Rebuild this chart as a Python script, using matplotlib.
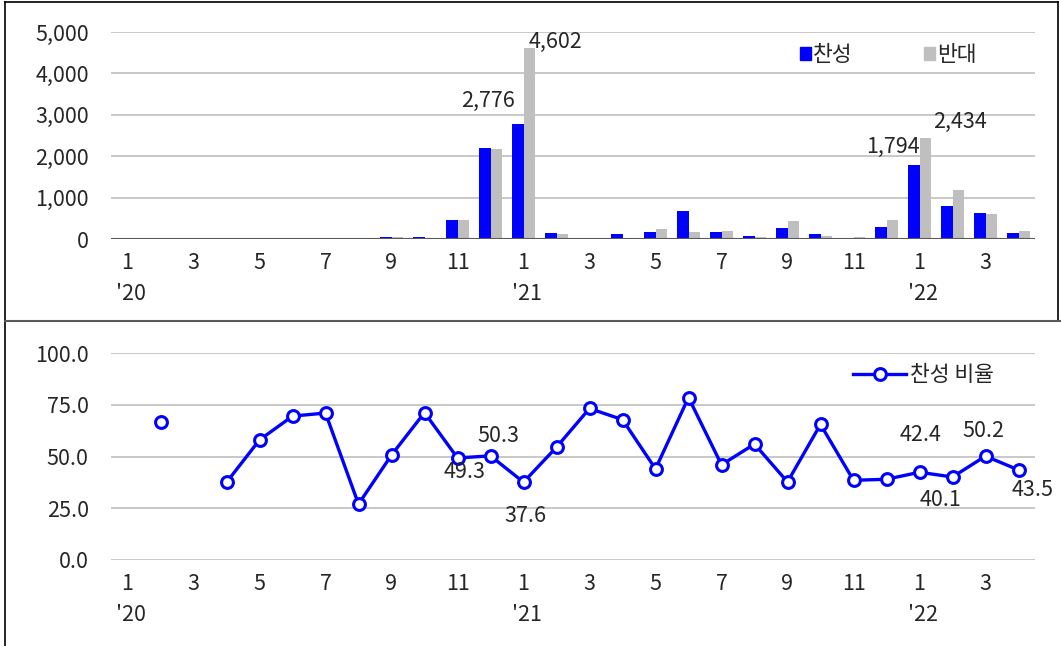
import numpy as np
import matplotlib
matplotlib.use("Agg")
import matplotlib.pyplot as plt
from matplotlib.lines import Line2D
from matplotlib.patches import Patch

plt.rcParams['font.family'] = ['Noto Sans CJK KR', 'DejaVu Sans']

# months Jan 2020 .. Apr 2022
month_nums = [1, 2, 3, 4, 5, 6, 7, 8, 9, 10, 11, 12,
              1, 2, 3, 4, 5, 6, 7, 8, 9, 10, 11, 12,
              1, 2, 3, 4]
year_labels = {0: "'20", 12: "'21", 24: "'22"}

pro = [0, 2, 0, 10, 25, 10, 3, 1, 40, 50, 450, 2200,
       2776, 150, 30, 110, 180, 670, 160, 70, 260, 130, 25, 280,
       1794, 800, 620, 140]
con = [0, 1, 0, 17, 18, 4, 1, 3, 39, 20, 462, 2175,
       4602, 110, 5, 30, 240, 170, 190, 50, 430, 70, 40, 450,
       2434, 1195, 615, 182]
ratio = [np.nan, 66.5, np.nan, 37.5, 58.0, 69.5, 71.0, 27.0, 50.7, 71.2, 49.3, 50.3,
         37.6, 54.5, 73.2, 67.8, 44.0, 78.5, 46.0, 56.0, 37.7, 65.5, 38.5, 39.0,
         42.4, 40.1, 50.2, 43.5]

# which values get a data label, with label offsets (points)
bar_labels = {(12, 0): (-21, 17), (12, 1): (19, 5), (24, 0): (-14.5, 12.5), (24, 1): (25, 11.5)}
line_labels = {10: (5, -10), 11: (6, 14), 12: (1.5, -24.5), 24: (1, 27),
               25: (-9, -16.5), 26: (-1.5, 18), 27: (10, -14.5)}

BLUE = '#0000FF'
GRAY = '#BFBFBF'
TXT = '#262626'
FS = 15.5

W, H = 1061, 646
fig = plt.figure(figsize=(W / 100, H / 100), dpi=100)

x = np.arange(len(month_nums))
left, width = 111 / W, 924 / W


def style_axis(ax):
    ax.set_xlim(-0.5, len(month_nums) - 0.5)
    for s in ['top', 'right', 'left', 'bottom']:
        ax.spines[s].set_visible(False)
    ax.grid(axis='y', color='#BFBFBF', linewidth=1.2)
    ax.set_axisbelow(True)
    ax.tick_params(axis='both', length=0, labelsize=FS, colors=TXT)
    ax.tick_params(axis='y', pad=16)
    ax.tick_params(axis='x', pad=9)
    ax.set_xticks(x[::2])
    ax.set_xticklabels([str(m) for m in month_nums[::2]])
    for i, yl in year_labels.items():
        ax.text(i + 0.1, -0.265, yl, transform=ax.get_xaxis_transform(),
                ha='center', va='center', fontsize=FS, color=TXT)


# top: counts
ax1 = fig.add_axes([left, 407 / H, width, 207 / H])
bw = 0.36
ax1.bar(x - bw / 2, pro, width=bw, color=BLUE, label='찬성')
ax1.bar(x + bw / 2, con, width=bw, color=GRAY, label='반대')
ax1.set_ylim(0, 5000)
ax1.set_yticks(np.arange(0, 5001, 1000))
ax1.set_yticklabels([f"{v:,}" for v in range(0, 5001, 1000)])
style_axis(ax1)
ax1.axhline(0, color='#595959', linewidth=1.5)
for (i, k), off in bar_labels.items():
    v = pro[i] if k == 0 else con[i]
    xx = x[i] - bw / 2 if k == 0 else x[i] + bw / 2
    ax1.annotate(f"{v:,}", (xx, v), xytext=off, textcoords='offset points',
                 ha='center', va='center', fontsize=FS, color=TXT)
ax1.legend(handles=[Patch(color=BLUE, label='찬성'), Patch(color=GRAY, label='반대')],
           loc='upper left', bbox_to_anchor=(670 / 924, 1.035), ncol=2, frameon=False,
           fontsize=FS, handlelength=0.5, handleheight=0.5, handletextpad=0.1,
           columnspacing=3.3, labelcolor=TXT)

# bottom: ratio
ax2 = fig.add_axes([left, 86 / H, width, 207 / H])
ax2.plot(x, ratio, color=BLUE, linewidth=2.4, marker='o', markersize=8.5,
         markerfacecolor='white', markeredgecolor=BLUE, markeredgewidth=2.2,
         label='찬성 비율')
ax2.set_ylim(0, 100)
ax2.set_yticks(np.arange(0, 101, 25))
ax2.set_yticklabels([f"{v:.1f}" for v in range(0, 101, 25)])
style_axis(ax2)
for i, off in line_labels.items():
    ax2.annotate(f"{ratio[i]:.1f}", (x[i], ratio[i]), xytext=off, textcoords='offset points',
                 ha='center', va='center', fontsize=FS, color=TXT)
ax2.legend(loc='upper left', bbox_to_anchor=(723 / 924, 1.04), frameon=False,
           fontsize=FS, handlelength=2.45, handletextpad=0.2, labelcolor=TXT)

# panel borders
fig.add_artist(Line2D([5 / W, 5 / W], [0, 1 - 2 / H], color='black', linewidth=1.2))
fig.add_artist(Line2D([5 / W, 1058 / W], [1 - 2 / H, 1 - 2 / H], color='black', linewidth=1.2))
fig.add_artist(Line2D([1058 / W, 1058 / W], [1 - 2 / H, 1 - 321 / H], color='black', linewidth=1.2))
fig.add_artist(Line2D([5 / W, 1], [1 - 321 / H, 1 - 321 / H], color='#595959', linewidth=1.5))

fig.savefig('out.png', dpi=100)
